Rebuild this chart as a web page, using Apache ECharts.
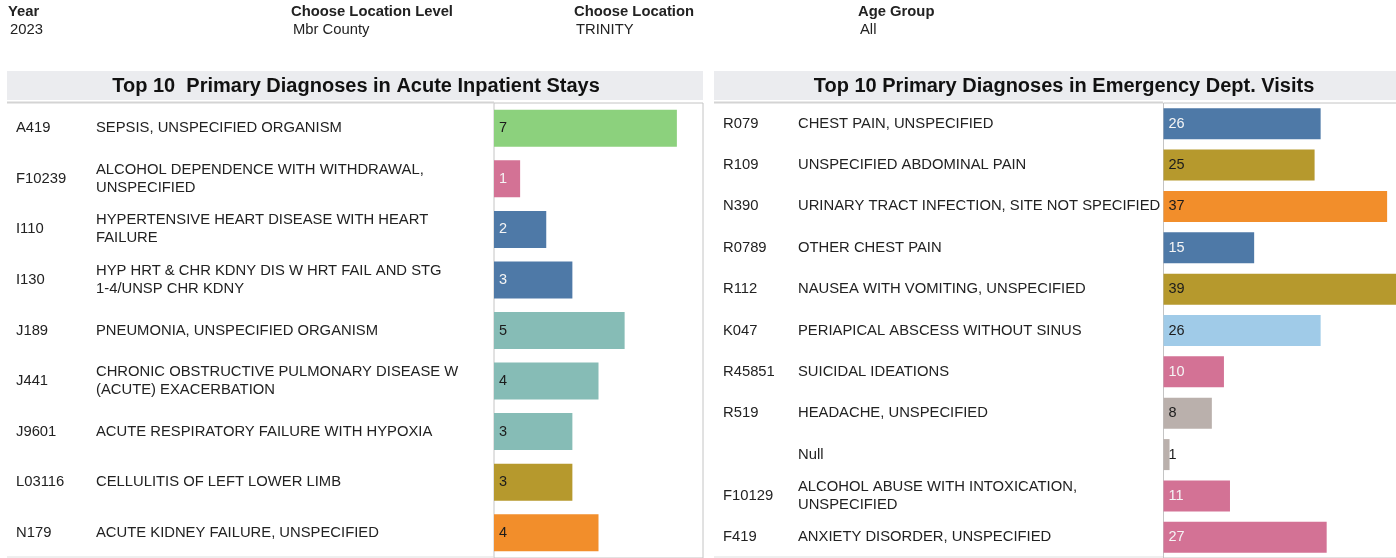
<!DOCTYPE html>
<html>
<head>
<meta charset="utf-8">
<title>Top 10 Primary Diagnoses</title>
<script src="https://cdn.jsdelivr.net/npm/echarts@6/dist/echarts.min.js"></script>
<style>
  html, body { margin: 0; padding: 0; background: #fff; }
  #chart { width: 1396px; height: 558px; }
</style>
</head>
<body>
<div id="chart"></div>
<script>
// header filters
const filterLabels = ['Year', 'Choose Location Level', 'Choose Location', 'Age Group'];
const filterValues = ['2023', 'Mbr County', 'TRINITY', 'All'];

// acute inpatient stays
const inpatientCodes = ['A419', 'F10239', 'I110', 'I130', 'J189', 'J441', 'J9601', 'L03116', 'N179'];
const inpatientNames = [
    'SEPSIS, UNSPECIFIED ORGANISM',
    'ALCOHOL DEPENDENCE WITH WITHDRAWAL,\nUNSPECIFIED',
    'HYPERTENSIVE HEART DISEASE WITH HEART\nFAILURE',
    'HYP HRT & CHR KDNY DIS W HRT FAIL AND STG\n1-4/UNSP CHR KDNY',
    'PNEUMONIA, UNSPECIFIED ORGANISM',
    'CHRONIC OBSTRUCTIVE PULMONARY DISEASE W\n(ACUTE) EXACERBATION',
    'ACUTE RESPIRATORY FAILURE WITH HYPOXIA',
    'CELLULITIS OF LEFT LOWER LIMB',
    'ACUTE KIDNEY FAILURE, UNSPECIFIED'
];
const inpatientValues = [7, 1, 2, 3, 5, 4, 3, 3, 4];
const inpatientGroups = ['A', 'F', 'I', 'I', 'J', 'J', 'J', 'L', 'N'];

// emergency dept. visits
const edCodes = ['R079', 'R109', 'N390', 'R0789', 'R112', 'K047', 'R45851', 'R519', '', 'F10129', 'F419'];
const edNames = [
    'CHEST PAIN, UNSPECIFIED',
    'UNSPECIFIED ABDOMINAL PAIN',
    'URINARY TRACT INFECTION, SITE NOT SPECIFIED',
    'OTHER CHEST PAIN',
    'NAUSEA WITH VOMITING, UNSPECIFIED',
    'PERIAPICAL ABSCESS WITHOUT SINUS',
    'SUICIDAL IDEATIONS',
    'HEADACHE, UNSPECIFIED',
    'Null',
    'ALCOHOL ABUSE WITH INTOXICATION,\nUNSPECIFIED',
    'ANXIETY DISORDER, UNSPECIFIED'
];
const edValues = [26, 25, 37, 15, 39, 26, 10, 8, 1, 11, 27];
const edGroups = ['chest', 'digestive', 'urinary', 'chest', 'digestive', 'dental', 'mental', 'other', 'other', 'mental', 'mental'];

const FONT = '"Liberation Sans", Arial, sans-serif';
const TEXT_SIZE = 14.8;
const inpatientColors = { A: '#8cd17d', F: '#d37295', I: '#4e79a7', J: '#86bcb6', L: '#b6992d', N: '#f28e2b' };
const edColors = { chest: '#4e79a7', digestive: '#b6992d', urinary: '#f28e2b', dental: '#a0cbe8', mental: '#d37295', other: '#bab0ac' };
const lightText = ['#4e79a7', '#d37295'];

/**
 * Monta os itens das barras com a cor do grupo
 */
function barData(values, groups, colors) {
    return values.map(function (v, i) {
        const c = colors[groups[i]];
        return {
            value: v,
            itemStyle: { color: c },
            label: { color: lightText.indexOf(c) > -1 ? '#f5f5f5' : '#1c1c1c' }
        };
    });
}

function categoryAxis(grid, data, margin) {
    return {
        gridIndex: grid,
        type: 'category',
        data: data,
        inverse: true,
        position: 'left',
        axisLine: { show: false },
        axisTick: { show: false },
        splitLine: { show: false },
        axisLabel: {
            interval: 0,
            align: 'left',
            margin: margin,
            fontSize: TEXT_SIZE,
            lineHeight: 18,
            color: '#222',
            fontFamily: FONT
        }
    };
}

function barSeries(axis, data, width) {
    return {
        type: 'bar',
        xAxisIndex: axis,
        yAxisIndex: axis * 2,
        data: data,
        barWidth: width,
        clip: true,
        silent: true,
        label: {
            show: true,
            position: 'insideLeft',
            distance: 5,
            fontSize: 14.5,
            fontFamily: FONT
        }
    };
}

const headerX = [8, 291, 574, 858];
const graphics = [
    { type: 'rect', shape: { x: 7, y: 71, width: 696, height: 29 }, style: { fill: '#ebecef' } },
    { type: 'rect', shape: { x: 714, y: 71, width: 682, height: 29 }, style: { fill: '#ebecef' } },
    { type: 'line', shape: { x1: 7, y1: 102.5, x2: 494, y2: 102.5 }, style: { stroke: '#d4d4d4', lineWidth: 2 } },
    { type: 'line', shape: { x1: 714, y1: 102.5, x2: 1163, y2: 102.5 }, style: { stroke: '#d4d4d4', lineWidth: 2 } },
    { type: 'line', shape: { x1: 7, y1: 557, x2: 494, y2: 557 }, style: { stroke: '#dedede', lineWidth: 1 } },
    { type: 'line', shape: { x1: 714, y1: 557, x2: 1163, y2: 557 }, style: { stroke: '#dedede', lineWidth: 1 } },
    {
        type: 'text', x: 356, y: 86,
        style: { text: 'Top 10  Primary Diagnoses in Acute Inpatient Stays', font: 'bold 20px ' + FONT, fill: '#111', textAlign: 'center', textVerticalAlign: 'middle' }
    },
    {
        type: 'text', x: 1064, y: 86,
        style: { text: 'Top 10 Primary Diagnoses in Emergency Dept. Visits', font: 'bold 20px ' + FONT, fill: '#111', textAlign: 'center', textVerticalAlign: 'middle' }
    }
];
filterLabels.forEach(function (t, i) {
    graphics.push({ type: 'text', x: headerX[i], y: 4, style: { text: t, font: 'bold ' + TEXT_SIZE + 'px ' + FONT, fill: '#222' } });
    graphics.push({ type: 'text', x: headerX[i] + 2, y: 22, style: { text: filterValues[i], font: TEXT_SIZE + 'px ' + FONT, fill: '#222' } });
});

const chart = echarts.init(document.getElementById('chart'));

const option = {
    animation: false,
    backgroundColor: '#fff',
    graphic: graphics,
    grid: [
        { left: 494, top: 103, width: 209, bottom: 0, show: true, borderColor: '#c4c4c4', borderWidth: 1, outerBoundsMode: 'none' },
        { left: 1163.5, top: 103, right: -2, bottom: 0, show: true, borderColor: '#c4c4c4', borderWidth: 1, outerBoundsMode: 'none' }
    ],
    xAxis: [
        { gridIndex: 0, type: 'value', min: 0, max: 8, show: false },
        { gridIndex: 1, type: 'value', min: 0, max: 38.8, show: false }
    ],
    yAxis: [
        categoryAxis(0, inpatientCodes, 478),
        categoryAxis(0, inpatientNames, 398),
        categoryAxis(1, edCodes, 440.5),
        categoryAxis(1, edNames, 365.5)
    ],
    series: [
        barSeries(0, barData(inpatientValues, inpatientGroups, inpatientColors), 37),
        barSeries(1, barData(edValues, edGroups, edColors), 31)
    ]
};

chart.setOption(option);
</script>
</body>
</html>
